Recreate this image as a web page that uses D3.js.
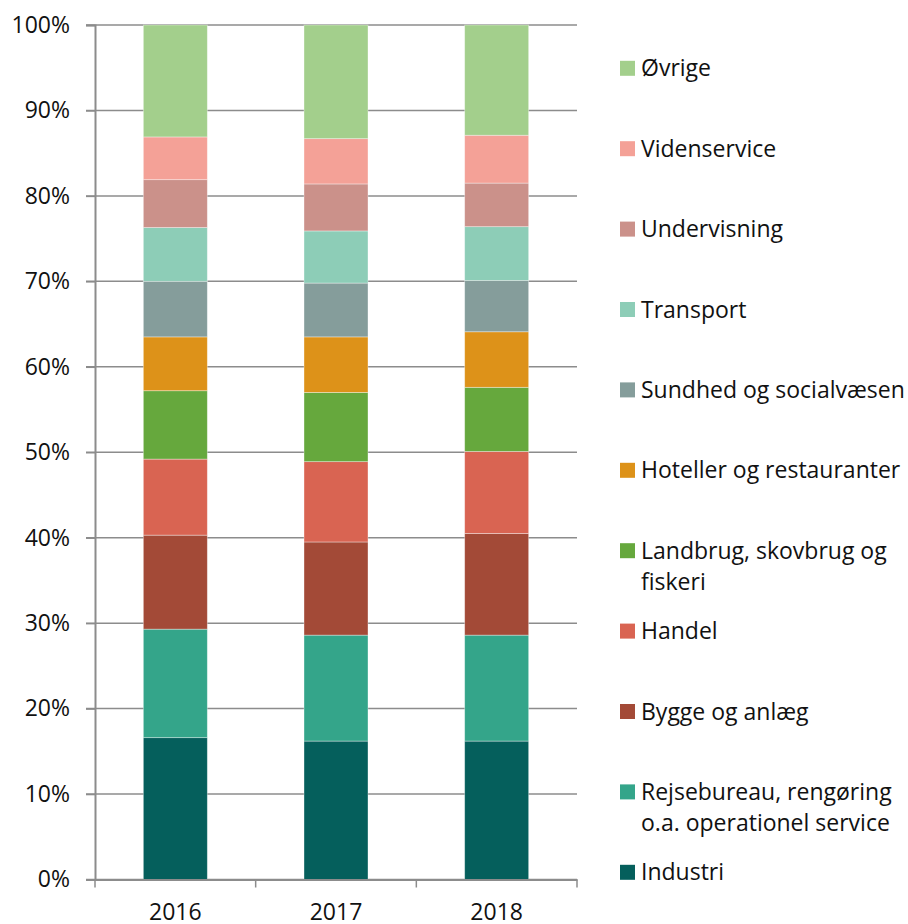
<!DOCTYPE html>
<html>
<head>
    <meta charset="utf-8">
    <script src="https://d3js.org/d3.v7.min.js"></script>
    <style>
        body { margin: 0; background: #fff; }
        text { font-family: "Open Sans", "Noto Sans", sans-serif; fill: #111; }
    </style>
</head>
<body>
    <div class="diagram"></div>
    <script>
        // years on the x axis
        var years = ["2016", "2017", "2018"];

        // series, bottom to top
        var series = ["Industri", "Rejsebureau, rengøring o.a. operationel service", "Bygge og anlæg",
            "Handel", "Landbrug, skovbrug og fiskeri", "Hoteller og restauranter",
            "Sundhed og socialvæsen", "Transport", "Undervisning", "Videnservice", "Øvrige"];

        // shares in percent, one array per series (2016, 2017, 2018)
        var industri     = [16.6, 16.2, 16.2];
        var rejsebureau  = [12.7, 12.4, 12.4];
        var bygge        = [11.0, 10.9, 11.9];
        var handel       = [8.9, 9.4, 9.6];
        var landbrug     = [8.0, 8.1, 7.5];
        var hoteller     = [6.3, 6.5, 6.5];
        var sundhed      = [6.5, 6.3, 6.0];
        var transport    = [6.3, 6.1, 6.3];
        var undervisning = [5.6, 5.5, 5.1];
        var videnservice = [5.0, 5.3, 5.6];
        var oevrige      = [13.1, 13.3, 12.9];

        var values = [industri, rejsebureau, bygge, handel, landbrug, hoteller,
            sundhed, transport, undervisning, videnservice, oevrige];

        var colors = ["#055f5c", "#34a58a", "#a34a37", "#d96452", "#66a83d", "#dd9219",
            "#859d9b", "#8dcdb7", "#cb918a", "#f4a197", "#a3cf8c"];

        // legend labels, with line breaks as in the original
        var legendLines = [["Industri"], ["Rejsebureau, rengøring", "o.a. operationel service"],
            ["Bygge og anlæg"], ["Handel"], ["Landbrug, skovbrug og", "fiskeri"],
            ["Hoteller og restauranter"], ["Sundhed og socialvæsen"], ["Transport"],
            ["Undervisning"], ["Videnservice"], ["Øvrige"]];

        var yTicks = [0, 10, 20, 30, 40, 50, 60, 70, 80, 90, 100];

        var w = 908, h = 924;
        var mLeft = 95, mRight = 577, mTop = 25, mBottom = 879.5;

        // table for d3.stack
        var table = years.map(function(y, i) {
            var row = { year: y };
            series.forEach(function(s, k) { row[s] = values[k][i]; });
            return row;
        });
        var stacked = d3.stack().keys(series)(table);

        var xScale = d3.scaleBand().domain(years).range([mLeft, mRight]);
        var yScale = d3.scaleLinear().domain([0, 100]).range([mBottom, mTop]);
        var barW = 64;

        var svg = d3.select("div.diagram").append("svg")
            .attr("width", w).attr("height", h);

        // gridlines
        svg.append("g").selectAll("line")
            .data(yTicks)
            .enter().append("line")
            .attr("x1", 86).attr("x2", mRight)
            .attr("y1", function(d) { return yScale(d); })
            .attr("y2", function(d) { return yScale(d); })
            .attr("stroke", "#8c8c8c").attr("stroke-width", 1.5);

        // bars
        svg.append("g").selectAll("g")
            .data(stacked)
            .enter().append("g")
            .attr("fill", function(d, i) { return colors[i]; })
            .selectAll("rect")
            .data(function(d) { return d; })
            .enter().append("rect")
            .attr("x", function(d) { return xScale(d.data.year) + xScale.bandwidth() / 2 - barW / 2; })
            .attr("y", function(d) { return yScale(d[1]); })
            .attr("width", barW)
            .attr("height", function(d) { return yScale(d[0]) - yScale(d[1]); })
            .attr("stroke", "rgba(255,255,255,0.45)")
            .attr("stroke-width", 0.8);

        // y axis
        var yAxis = d3.axisLeft(yScale).tickValues(yTicks)
            .tickFormat(function(d) { return d + "%"; }).tickSize(9).tickPadding(16);
        var gy = svg.append("g").attr("transform", "translate(" + mLeft + ",0)").call(yAxis);
        gy.select(".domain").attr("stroke", "#8c8c8c").attr("stroke-width", 2);
        gy.selectAll(".tick line").attr("stroke", "#8c8c8c").attr("stroke-width", 1.5);
        gy.selectAll("text").attr("font-size", "23px").attr("font-family", "Open Sans").attr("fill", "#111");

        // x axis
        var xAxis = d3.axisBottom(xScale).tickSize(0).tickPadding(24);
        var gx = svg.append("g").attr("transform", "translate(0," + mBottom + ")").call(xAxis);
        gx.select(".domain").attr("stroke", "#8c8c8c").attr("stroke-width", 2);
        gx.selectAll("text").attr("font-size", "23px").attr("font-family", "Open Sans").attr("fill", "#111");
        gx.append("g").selectAll("line")
            .data(xScale.domain().map(function(d) { return xScale(d); }).concat([mRight]))
            .enter().append("line")
            .attr("x1", function(d) { return d; }).attr("x2", function(d) { return d; })
            .attr("y1", 0).attr("y2", 8)
            .attr("stroke", "#8c8c8c").attr("stroke-width", 1.5);

        // legend, top to bottom
        var order = d3.range(series.length).reverse();
        var legendY = d3.scalePoint().domain(order).range([68.3, 872.3]);
        var legend = svg.append("g").selectAll("g")
            .data(order)
            .enter().append("g")
            .attr("transform", function(k) { return "translate(620," + legendY(k) + ")"; });
        legend.append("rect")
            .attr("x", 0).attr("y", -7.5).attr("width", 15).attr("height", 15)
            .attr("fill", function(k) { return colors[k]; });
        legend.append("text")
            .attr("font-size", "23px")
            .selectAll("tspan")
            .data(function(k) { return legendLines[k]; })
            .enter().append("tspan")
            .attr("x", 21)
            .attr("y", function(d, i) { return i * 31.5; })
            .attr("dy", "0.35em")
            .text(function(d) { return d; });
    </script>
</body>
</html>
